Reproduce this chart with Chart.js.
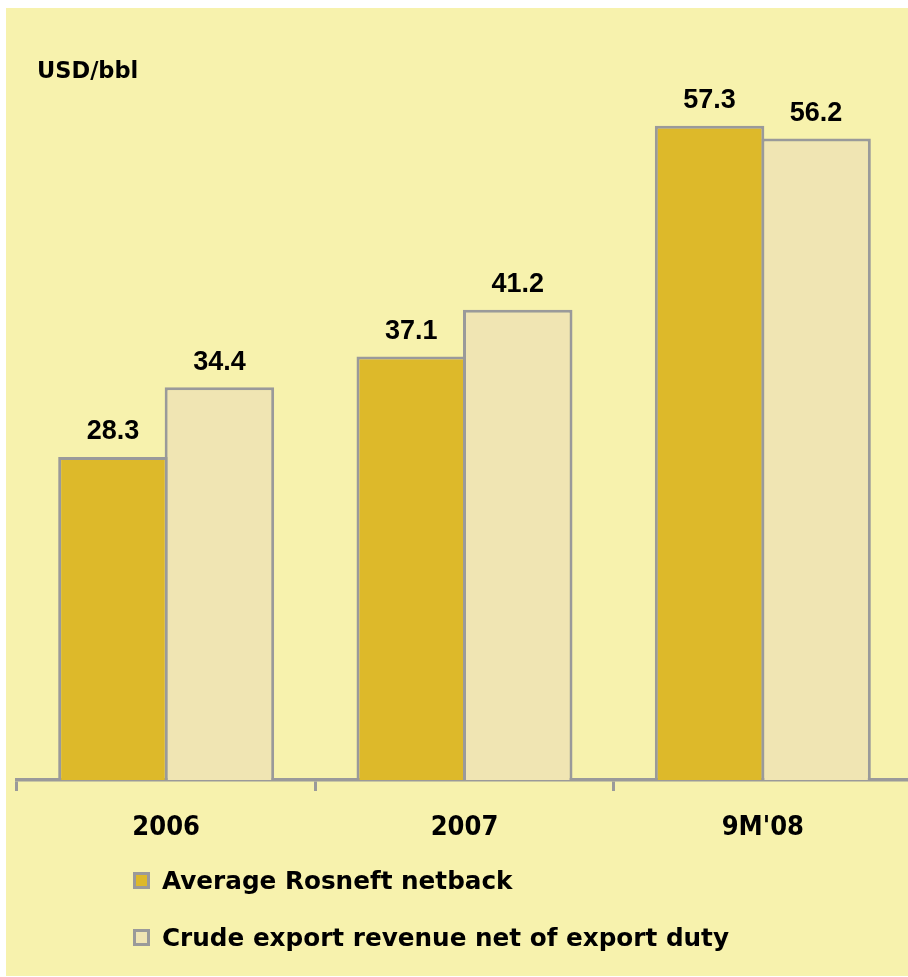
<!DOCTYPE html>
<html lang="en">
<head>
  <meta charset="UTF-8">
  <title>Netback</title>
  <script src="https://cdn.jsdelivr.net/npm/chart.js"></script>
  <style>
    html, body { margin: 0; padding: 0; background: #fff; overflow: hidden; }
    #panel { position: absolute; left: 6px; top: 8px; width: 902px; height: 968px; background: #F7F2AD; }
    #chart { position: absolute; left: 0; top: 0; }
    #unit { position: absolute; left: 37px; top: 57px; font: bold 22.5px "DejaVu Sans", sans-serif; color: #000; }
    #legend { position: absolute; left: 133px; top: 864px; font: bold 24.7px "DejaVu Sans", sans-serif; color: #000; }
    .item { display: flex; align-items: center; height: 32px; margin-bottom: 25px; }
    .box { width: 11px; height: 11px; border: 3px solid #9A9A9A; margin-right: 12px; }
  </style>
</head>
<body>
<div id="panel"></div>
<canvas id="chart" width="920" height="977"></canvas>
<div id="unit">USD/bbl</div>
<div id="legend"></div>

<script>
  const categories = ['2006', '2007', "9M'08"];
  const netback = [28.3, 37.1, 57.3];
  const exportRevenue = [34.4, 41.2, 56.2];
  const seriesNames = ['Average Rosneft netback', 'Crude export revenue net of export duty'];
  const seriesColors = ['#DDB92A', '#F0E5B3'];

  // value labels above each bar
  const barLabels = {
    id: 'barLabels',
    afterDatasetsDraw(chart) {
      const ctx = chart.ctx;
      ctx.save();
      ctx.font = 'bold 27px "Liberation Sans", Arial, sans-serif';
      ctx.fillStyle = '#000';
      ctx.textAlign = 'center';
      ctx.textBaseline = 'middle';
      chart.data.datasets.forEach((ds, i) => {
        chart.getDatasetMeta(i).data.forEach((bar, j) => {
          ctx.fillText(ds.data[j].toFixed(1), bar.x, bar.y - 25);
        });
      });
      ctx.restore();
    }
  };

  const ctx = document.getElementById('chart').getContext('2d');
  const chart = new Chart(ctx, {
    type: 'bar',
    data: {
      labels: categories,
      datasets: [
        { label: seriesNames[0], data: netback, backgroundColor: seriesColors[0] },
        { label: seriesNames[1], data: exportRevenue, backgroundColor: seriesColors[1] }
      ]
    },
    options: {
      responsive: false,
      animation: false,
      layout: { padding: { left: 17, right: 8, top: 95, bottom: 137 } },
      datasets: {
        bar: {
          borderColor: '#9A9A9A',
          borderWidth: 3,
          categoryPercentage: 0.714,
          barPercentage: 1.028
        }
      },
      plugins: {
        legend: { display: false },
        tooltip: { enabled: false }
      },
      scales: {
        x: {
          afterFit: s => { s.height = 60; },
          grid: {
            offset: true,
            drawOnChartArea: false,
            drawTicks: true,
            tickLength: 11,
            color: '#9A9A9A',
            lineWidth: 3
          },
          border: { display: true, color: '#9A9A9A', width: 3.5 },
          ticks: {
            color: '#000',
            padding: 21,
            font: { family: '"DejaVu Sans Condensed", "DejaVu Sans", sans-serif', size: 27, weight: 'bold' }
          }
        },
        y: {
          display: false,
          min: 0,
          max: 60
        }
      }
    },
    plugins: [barLabels]
  });

  // legend built from the chart's datasets
  const legend = document.getElementById('legend');
  chart.data.datasets.forEach(ds => {
    const row = document.createElement('div');
    row.className = 'item';
    const box = document.createElement('span');
    box.className = 'box';
    box.style.background = ds.backgroundColor;
    row.appendChild(box);
    row.appendChild(document.createTextNode(ds.label));
    legend.appendChild(row);
  });
</script>
</body>
</html>
